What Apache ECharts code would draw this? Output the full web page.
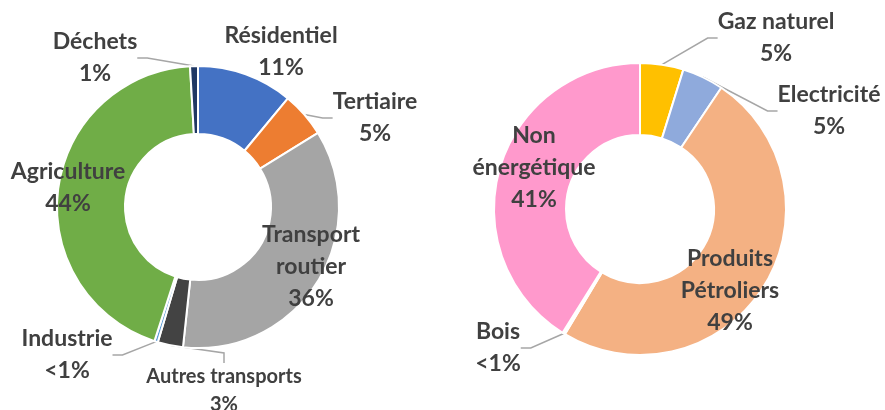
<!DOCTYPE html>
<html lang="fr">
<head>
<meta charset="UTF-8">
<title>Répartition</title>
<script src="https://cdn.jsdelivr.net/npm/echarts@6/dist/echarts.min.js"></script>
<style>
  html, body { margin: 0; padding: 0; background: #fff; }
  #main { width: 885px; height: 410px; }
</style>
</head>
<body>
<div id="main"></div>
<script>
// left donut : secteurs
var leftNames = ['Résidentiel', 'Tertiaire', 'Transport\nroutier', 'Autres transports', 'Industrie', 'Agriculture', 'Déchets'];
var leftValues = [11, 5.2, 35.5, 2.9, 0.4, 44.1, 0.9];
var leftPct = ['11%', '5%', '36%', '3%', '<1%', '44%', '1%'];
var leftColors = ['#4472C4', '#ED7D31', '#A5A5A5', '#434343', '#5B9BD5', '#70AD47', '#203864'];

// right donut : énergies
var rightNames = ['Gaz naturel', 'Electricité', 'Produits\nPétroliers', 'Bois', 'Non\nénergétique'];
var rightValues = [4.8, 4.6, 49.2, 0.3, 41.1];
var rightPct = ['5%', '5%', '49%', '<1%', '41%'];
var rightColors = ['#FFC000', '#8FAADC', '#F4B183', '#FFFFFF', '#FF99CC'];

// label anchors: center x, center y, leader line, font size
var leftLabelPos = [[281, 52, false, 23], [375, 118, true, 23], [311, 267, false, 23], [224, 391, true, 20], [67, 355, true, 23], [68, 188, false, 23], [95, 58, true, 23]];
var rightLabelPos = [[776, 38, true, 23], [829, 111, true, 23], [730, 291, false, 23], [498, 348, true, 23], [534, 168, false, 23]];

var textColor = '#404040';
var lineColor = '#A6A6A6';

function buildData(names, values, pct, colors, pos) {
    return names.map(function (n, i) {
        return {
            name: n,
            value: values[i],
            pct: pct[i],
            itemStyle: { color: colors[i] },
            label: { fontSize: pos[i][3], lineHeight: pos[i][3] < 22 ? 28 : 32 },
            labelLine: { show: pos[i][2] }
        };
    });
}

function makeSeries(names, values, pct, colors, pos, center, radius) {
    return {
        type: 'pie',
        center: center,
        radius: radius,
        startAngle: 90,
        clockwise: true,
        avoidLabelOverlap: false,
        silent: true,
        itemStyle: { borderColor: '#fff', borderWidth: 2 },
        label: {
            show: true,
            position: 'outside',
            color: textColor,
            fontFamily: 'Lato',
            fontWeight: 'bold',
            fontSize: 23,
            lineHeight: 32,
            align: 'center',
            formatter: function (p) {
                return p.name + '\n' + p.data.pct;
            }
        },
        labelLine: {
            length: 10,
            length2: 10,
            lineStyle: { color: lineColor, width: 1.5 }
        },
        labelLayout: function (params) {
            var p = pos[params.dataIndex];
            return { x: p[0], y: p[1], align: 'center', verticalAlign: 'middle' };
        },
        data: buildData(names, values, pct, colors, pos)
    };
}

var myChart = echarts.init(document.getElementById('main'));
myChart.setOption({
    backgroundColor: '#fff',
    animation: false,
    series: [
        makeSeries(leftNames, leftValues, leftPct, leftColors, leftLabelPos, [198, 207], [73, 141]),
        makeSeries(rightNames, rightValues, rightPct, rightColors, rightLabelPos, [640, 209], [74, 146])
    ]
});
</script>
</body>
</html>
